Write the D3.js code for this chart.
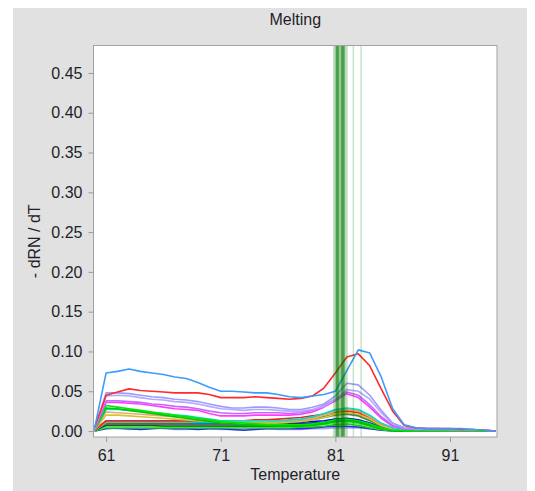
<!DOCTYPE html>
<html>
<head>
<meta charset="utf-8">
<script src="https://cdn.jsdelivr.net/npm/d3@7"></script>
<style>
  body { margin: 0; background: #ffffff; }
  text { font-family: "Liberation Sans", Arial, sans-serif; }
</style>
</head>
<body>
<svg id="chart" width="535" height="491"></svg>
<script>
// Temperature steps of the melt curve
const temps = [60,61,62,63,64,65,66,67,68,69,70,71,72,73,74,75,76,77,78,79,80,81,82,83,84,85,86,87,88,89,90,91,92,93,94,95];

// Derivative of fluorescence (-dRN/dT) per well
const wellBlueHigh  = [0.004,0.073,0.075,0.078,0.075,0.073,0.071,0.068,0.066,0.061,0.055,0.050,0.050,0.049,0.048,0.048,0.046,0.043,0.042,0.044,0.046,0.050,0.076,0.102,0.098,0.068,0.028,0.008,0.004,0.003,0.003,0.003,0.003,0.002,0.001,0.000];
const wellRedHigh   = [0.004,0.045,0.049,0.053,0.051,0.050,0.049,0.048,0.048,0.048,0.046,0.042,0.042,0.042,0.043,0.042,0.041,0.040,0.041,0.044,0.054,0.073,0.093,0.097,0.082,0.053,0.025,0.007,0.004,0.003,0.003,0.003,0.002,0.002,0.001,0.000];
const wellLavender1 = [0.003,0.048,0.048,0.047,0.045,0.043,0.042,0.040,0.039,0.037,0.034,0.031,0.029,0.029,0.030,0.030,0.029,0.027,0.027,0.030,0.034,0.044,0.060,0.058,0.045,0.026,0.010,0.004,0.003,0.003,0.003,0.002,0.002,0.002,0.001,0.000];
const wellLavender2 = [0.003,0.044,0.045,0.044,0.042,0.040,0.039,0.037,0.036,0.034,0.031,0.028,0.027,0.026,0.027,0.027,0.026,0.025,0.025,0.027,0.031,0.040,0.052,0.050,0.040,0.023,0.009,0.004,0.003,0.002,0.002,0.002,0.002,0.001,0.001,0.000];
const wellViolet    = [0.002,0.038,0.038,0.037,0.036,0.034,0.033,0.031,0.030,0.028,0.025,0.023,0.022,0.022,0.023,0.023,0.023,0.022,0.023,0.026,0.032,0.040,0.049,0.045,0.033,0.018,0.007,0.003,0.002,0.002,0.002,0.002,0.001,0.001,0.001,0.000];
const wellMagenta   = [0.002,0.036,0.036,0.035,0.034,0.032,0.030,0.028,0.027,0.026,0.022,0.019,0.019,0.019,0.020,0.020,0.020,0.020,0.021,0.024,0.030,0.038,0.047,0.042,0.030,0.016,0.006,0.003,0.002,0.002,0.002,0.002,0.001,0.001,0.001,0.000];
const wellGreen1    = [0.001,0.032,0.030,0.028,0.026,0.024,0.022,0.020,0.018,0.016,0.014,0.012,0.011,0.010,0.009,0.008,0.008,0.008,0.008,0.009,0.011,0.014,0.015,0.013,0.009,0.004,0.001,0.000,0.000,0.000,0.000,0.000,0.000,0.000,0.000,0.000];
const wellGreen2    = [0.001,0.029,0.028,0.026,0.024,0.022,0.020,0.018,0.016,0.014,0.012,0.010,0.009,0.008,0.007,0.007,0.006,0.006,0.006,0.007,0.009,0.012,0.013,0.011,0.007,0.003,0.001,0.000,0.000,0.000,0.000,0.000,0.000,0.000,0.000,0.000];
const wellCyan1     = [0.001,0.027,0.027,0.026,0.025,0.023,0.022,0.020,0.019,0.017,0.015,0.013,0.013,0.013,0.013,0.013,0.013,0.014,0.015,0.018,0.022,0.027,0.029,0.027,0.020,0.010,0.004,0.001,0.001,0.001,0.001,0.001,0.001,0.001,0.000,0.000];
const wellTan        = [0.001,0.024,0.023,0.022,0.021,0.020,0.019,0.018,0.017,0.016,0.014,0.013,0.012,0.012,0.012,0.012,0.012,0.013,0.014,0.016,0.020,0.025,0.027,0.025,0.018,0.009,0.003,0.001,0.001,0.001,0.001,0.001,0.001,0.000,0.000,0.000];
const wellYellow    = [0.001,0.020,0.020,0.019,0.018,0.017,0.016,0.015,0.014,0.013,0.012,0.011,0.010,0.010,0.010,0.010,0.010,0.011,0.012,0.014,0.017,0.021,0.023,0.021,0.015,0.007,0.002,0.001,0.001,0.001,0.001,0.000,0.000,0.000,0.000,0.000];
const wellRedLow    = [0.001,0.013,0.013,0.013,0.013,0.013,0.013,0.013,0.013,0.013,0.013,0.013,0.013,0.013,0.014,0.014,0.015,0.016,0.017,0.019,0.021,0.024,0.025,0.023,0.017,0.008,0.003,0.001,0.001,0.001,0.001,0.001,0.001,0.000,0.000,0.000];
const wellSky       = [0.001,0.012,0.012,0.012,0.012,0.012,0.012,0.012,0.012,0.011,0.011,0.011,0.011,0.011,0.011,0.012,0.012,0.013,0.014,0.017,0.021,0.026,0.028,0.026,0.019,0.009,0.003,0.001,0.001,0.001,0.001,0.001,0.000,0.000,0.000,0.000];
const wellOrange    = [0.001,0.011,0.011,0.011,0.011,0.011,0.011,0.011,0.011,0.011,0.011,0.011,0.011,0.011,0.011,0.011,0.012,0.013,0.014,0.016,0.020,0.024,0.026,0.024,0.018,0.009,0.003,0.001,0.001,0.001,0.001,0.000,0.000,0.000,0.000,0.000];
const wellTeal      = [0.001,0.010,0.010,0.010,0.010,0.010,0.010,0.010,0.010,0.010,0.010,0.010,0.010,0.010,0.010,0.010,0.011,0.012,0.013,0.015,0.018,0.021,0.022,0.020,0.014,0.007,0.002,0.001,0.000,0.000,0.000,0.000,0.000,0.000,0.000,0.000];
const wellOlive     = [0.001,0.009,0.009,0.009,0.009,0.009,0.009,0.009,0.009,0.009,0.009,0.009,0.009,0.009,0.009,0.009,0.010,0.011,0.012,0.014,0.017,0.020,0.021,0.019,0.013,0.006,0.002,0.001,0.000,0.000,0.000,0.000,0.000,0.000,0.000,0.000];
const wellBlue      = [0.001,0.010,0.010,0.010,0.010,0.010,0.010,0.010,0.010,0.010,0.010,0.010,0.010,0.010,0.010,0.010,0.010,0.011,0.011,0.012,0.013,0.015,0.016,0.014,0.010,0.005,0.002,0.000,0.000,0.000,0.000,0.000,0.000,0.000,0.000,0.000];
const wellNavy      = [0.001,0.008,0.008,0.008,0.008,0.008,0.008,0.008,0.008,0.008,0.008,0.008,0.008,0.008,0.008,0.008,0.008,0.009,0.009,0.010,0.011,0.013,0.014,0.012,0.008,0.004,0.001,0.000,0.000,0.000,0.000,0.000,0.000,0.000,0.000,0.000];
const wellGreen3    = [0.001,0.007,0.007,0.007,0.007,0.007,0.006,0.006,0.006,0.006,0.006,0.006,0.006,0.006,0.006,0.006,0.006,0.007,0.007,0.008,0.010,0.012,0.013,0.011,0.007,0.003,0.001,0.000,0.000,0.000,0.000,0.000,0.000,0.000,0.000,0.000];
const wellGreen4    = [0.001,0.005,0.005,0.005,0.005,0.005,0.005,0.005,0.005,0.005,0.005,0.005,0.005,0.005,0.005,0.005,0.005,0.005,0.006,0.007,0.008,0.010,0.011,0.009,0.006,0.002,0.001,0.000,0.000,0.000,0.000,0.000,0.000,0.000,0.000,0.000];
const wellGreen5    = [0.000,0.004,0.004,0.004,0.004,0.004,0.004,0.004,0.004,0.004,0.004,0.004,0.004,0.004,0.004,0.004,0.004,0.004,0.005,0.005,0.006,0.008,0.009,0.007,0.004,0.002,0.000,0.000,0.000,0.000,0.000,0.000,0.000,0.000,0.000,0.000];
const wellPeriwinkle= [0.000,0.004,0.003,0.002,0.003,0.004,0.003,0.002,0.002,0.003,0.003,0.002,0.002,0.002,0.003,0.003,0.002,0.002,0.002,0.003,0.003,0.004,0.004,0.004,0.003,0.002,0.001,0.000,0.000,0.000,0.000,0.000,0.000,0.000,0.000,0.000];
const wellBlueLow   = [0.000,0.003,0.004,0.003,0.002,0.003,0.004,0.003,0.003,0.002,0.003,0.003,0.002,0.001,0.002,0.003,0.003,0.003,0.003,0.004,0.005,0.006,0.006,0.005,0.003,0.001,0.000,0.000,0.000,0.000,0.000,0.000,0.000,0.000,0.000,0.000];

// Peak (melting) temperatures marked as vertical lines; several wells share a peak
const meltTemps = [
  80.85, 80.95,
  81.05, 81.07, 81.09, 81.12, 81.14, 81.17, 81.19, 81.22, 81.25, 81.27, 81.30, 81.33,
  81.42,
  81.50, 81.52, 81.55, 81.57, 81.60, 81.62, 81.65, 81.67, 81.70, 81.72, 81.75, 81.78, 81.80,
  81.90, 82.02,
  82.57, 83.25
];

const yTicks = [0.00,0.05,0.10,0.15,0.20,0.25,0.30,0.35,0.40,0.45];
const xTicks = [61,71,81,91];

// Curves in drawing order (back to front) with their colours
const wells = [
  wellPeriwinkle, wellBlueLow, wellGreen5, wellGreen4, wellGreen3, wellNavy, wellBlue,
  wellOlive, wellTeal, wellOrange, wellSky, wellRedLow, wellYellow, wellTan, wellCyan1,
  wellGreen2, wellGreen1, wellMagenta, wellViolet, wellLavender2, wellLavender1, wellRedHigh, wellBlueHigh
];
const wellColors = [
  "#a8a8ff", "#2a2ae6", "#22c222", "#44ee44", "#009a00", "#1010a8", "#0000ff",
  "#8a8a10", "#008c8c", "#ff9500", "#10b4f0", "#ff1a1a", "#d4c23a", "#eea866", "#00e0c8",
  "#00c400", "#00e600", "#ff3cff", "#c466ff", "#b4a8ff", "#9c9cff", "#ff2a2a", "#3d9bff"
];

const svg = d3.select("#chart");
const W = 535, H = 491;
const plot = { left: 93.5, right: 497, top: 45.5, bottom: 437 };

// Grey panel behind everything
svg.append("rect")
  .attr("x", 13).attr("y", 8).attr("width", 514).attr("height", H - 8)
  .attr("fill", "#e1e1e1");

const x = d3.scaleLinear().domain([59.9, 95.1]).range([plot.left, plot.right]);
const y = d3.scaleLinear().domain([-0.0075, 0.4845]).range([plot.bottom, plot.top]);

// Plot background
svg.append("rect")
  .attr("x", plot.left).attr("y", plot.top)
  .attr("width", plot.right - plot.left).attr("height", plot.bottom - plot.top)
  .attr("fill", "#ffffff");

svg.append("clipPath").attr("id", "plotClip")
  .append("rect")
  .attr("x", plot.left).attr("y", plot.top)
  .attr("width", plot.right - plot.left).attr("height", plot.bottom - plot.top);

const g = svg.append("g").attr("clip-path", "url(#plotClip)");

const line = d3.line()
  .x((d, i) => x(temps[i]))
  .y(d => y(d));

g.selectAll("path.well")
  .data(wells)
  .join("path")
  .attr("class", "well")
  .attr("d", line)
  .attr("fill", "none")
  .attr("stroke", (d, i) => wellColors[i])
  .attr("stroke-width", 1.6)
  .attr("stroke-linejoin", "round");

// Melting temperature markers
g.selectAll("line.tm")
  .data(meltTemps)
  .join("line")
  .attr("class", "tm")
  .attr("x1", d => x(d)).attr("x2", d => x(d))
  .attr("y1", plot.top).attr("y2", plot.bottom)
  .attr("stroke", "#007a00")
  .attr("stroke-opacity", 0.22)
  .attr("stroke-width", 1.5);

// Frame
svg.append("rect")
  .attr("x", plot.left).attr("y", plot.top)
  .attr("width", plot.right - plot.left).attr("height", plot.bottom - plot.top)
  .attr("fill", "none")
  .attr("stroke", "#a2a2a2")
  .attr("stroke-width", 1);

// Axes
const yAxis = svg.append("g")
  .attr("transform", `translate(${plot.left},0)`)
  .call(d3.axisLeft(y).tickValues(yTicks).tickFormat(d3.format(".2f")).tickSize(5).tickPadding(6));
const xAxis = svg.append("g")
  .attr("transform", `translate(0,${plot.bottom})`)
  .call(d3.axisBottom(x).tickValues(xTicks).tickFormat(d3.format("d")).tickSize(5).tickPadding(8));

[yAxis, xAxis].forEach(a => {
  a.select(".domain").remove();
  a.selectAll(".tick line").attr("stroke", "#9a9a9a");
  a.selectAll(".tick text")
    .attr("fill", "#1e1e2a")
    .style("font-size", "16px")
    .style("font-family", "'Liberation Sans', Arial, sans-serif");
});

// Titles
svg.append("text")
  .attr("x", (plot.left + plot.right) / 2).attr("y", 25)
  .attr("text-anchor", "middle")
  .attr("fill", "#1e1e2a")
  .style("font-size", "16px")
  .text("Melting");

svg.append("text")
  .attr("x", (plot.left + plot.right) / 2).attr("y", 480)
  .attr("text-anchor", "middle")
  .attr("fill", "#1e1e2a")
  .style("font-size", "16px")
  .text("Temperature");

svg.append("text")
  .attr("transform", `translate(40,${(plot.top + plot.bottom) / 2}) rotate(-90)`)
  .attr("text-anchor", "middle")
  .attr("fill", "#1e1e2a")
  .style("font-size", "16px")
  .text("- dRN / dT");
</script>
</body>
</html>
